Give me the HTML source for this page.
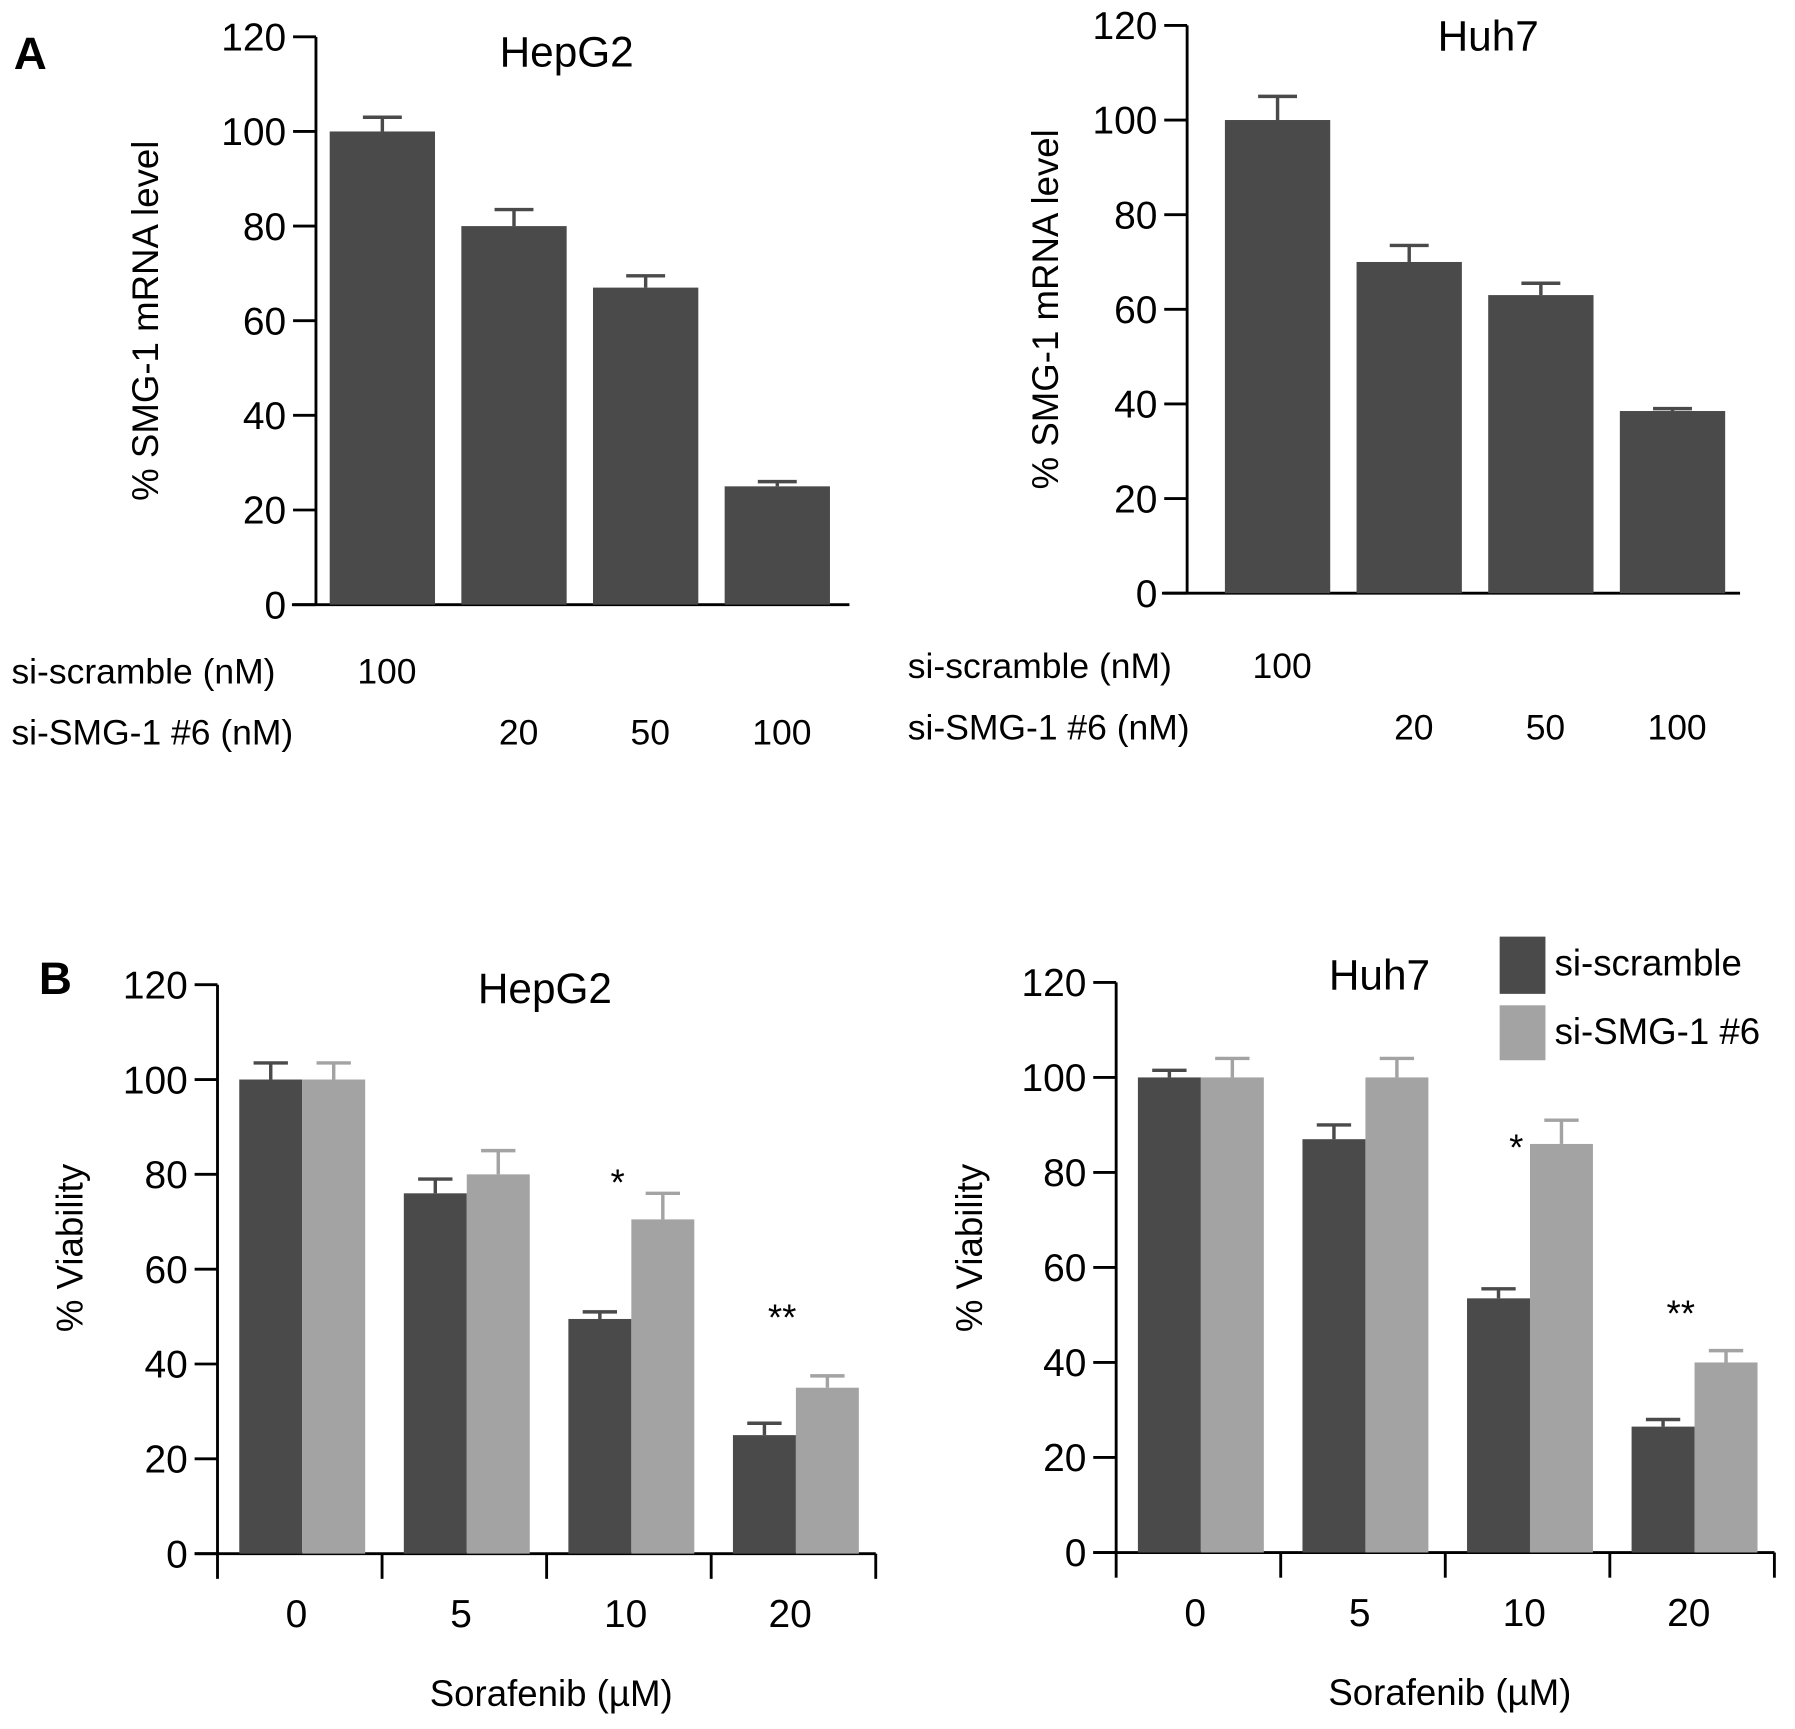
<!DOCTYPE html>
<html><head><meta charset="utf-8"><style>
html,body{margin:0;padding:0;background:#fff;}
svg{display:block;font-family:"Liberation Sans",Arial,sans-serif;}
</style></head><body>
<svg id="fig" width="1795" height="1729" viewBox="0 0 1568 1510" xmlns="http://www.w3.org/2000/svg">
<rect width="1568" height="1510" fill="#fff"/>
<text x="12" y="60" font-size="40" font-weight="bold">A</text>
<text x="34" y="868" font-size="40" font-weight="bold">B</text>
<g>
<rect x="1310" y="818" width="40" height="50" fill="#4a4a4a"/>
<rect x="1310" y="878" width="40" height="48" fill="#a3a3a3"/>
<text x="1358" y="852" font-size="32">si-scramble</text>
<text x="1358" y="912" font-size="32">si-SMG-1 #6</text>
</g>
</svg>
<script>
const yTicks = [0, 20, 40, 60, 80, 100, 120];
const aCategories = ["scramble 100", "SMG-1 20", "SMG-1 50", "SMG-1 100"];
const aScrambleDose = ["100", "", "", ""];
const aSmgDose = ["", "20", "50", "100"];
const aHepValues = [100, 80, 67, 25];
const aHepErr = [103, 83.5, 69.5, 26];
const aHuhValues = [100, 70, 63, 38.5];
const aHuhErr = [105, 73.5, 65.5, 39];
const bCategories = ["0", "5", "10", "20"];
const bHepScramble = [100, 76, 49.5, 25];
const bHepScrambleErr = [103.5, 79, 51, 27.5];
const bHepSmg = [100, 80, 70.5, 35];
const bHepSmgErr = [103.5, 85, 76, 37.5];
const bHuhScramble = [100, 87, 53.5, 26.5];
const bHuhScrambleErr = [101.5, 90, 55.5, 28];
const bHuhSmg = [100, 100, 86, 40];
const bHuhSmgErr = [104, 104, 91, 42.5];
const bHepStars = ["", "", "*", "**"];
const bHepStarLevel = [0, 0, 79, 50.5];
const bHuhStars = ["", "", "*", "**"];
const bHuhStarLevel = [0, 0, 86, 51];

const NS = "http://www.w3.org/2000/svg";
const svg = document.getElementById("fig");
function mk(tag, attrs, parent, text){
  const e = document.createElementNS(NS, tag);
  for (const k in attrs) e.setAttribute(k, attrs[k]);
  if (text !== undefined) e.textContent = text;
  (parent || svg).appendChild(e);
  return e;
}
const DARK = "#4a4a4a", LIGHT = "#a3a3a3";

function axes(g, ax, y0, y120, xStart, xEnd){
  const ys = v => y0 - (v/120)*(y0 - y120);
  const yl = mk("line",{x1:ax,y1:y120,x2:ax,y2:y0,stroke:"#000","stroke-width":2.5},g);
  
  
  const xl = mk("line",{x1:xStart,y1:y0,x2:xEnd,y2:y0,stroke:"#000","stroke-width":2.5},g);
  
  
  yTicks.forEach(t=>{
    const y = ys(t);
    const tl = mk("line",{x1:ax-20,y1:y,x2:ax,y2:y,stroke:"#000","stroke-width":2.5},g);
    
    
    const tx = mk("text",{x:ax-26,y:y+12,"font-size":34,"text-anchor":"end"},g,String(t));
    
    
  });
  return ys;
}
function bar(g, x, w, v, e, ys, color, capW, name){
  const r = mk("rect",{x:x,y:ys(v),width:w,height:ys(0)-ys(v),fill:color},g);
  
  
  const cx = x + w/2;
  const el = mk("line",{x1:cx,y1:ys(e),x2:cx,y2:ys(v),stroke:color,"stroke-width":3},g);
  
  
  const cl = mk("line",{x1:cx-capW/2,y1:ys(e),x2:cx+capW/2,y2:ys(e),stroke:color,"stroke-width":3},g);
  
  
}
function ylabel(g, x, y, txt){
  const t = mk("text",{x:x,y:y,"font-size":32,"text-anchor":"middle",transform:`rotate(-90 ${x} ${y})`},g,txt);
  
  
}
function title(g, x, y, txt){
  const t = mk("text",{x:x,y:y,"font-size":37,"text-anchor":"middle"},g,txt);
  
  
}

// Panel A
function panelA(cfg, vals, errs, name){
  const g = mk("g",{});
  
  
  const ys = axes(g, cfg.ax, cfg.y0, cfg.y120, cfg.xs, cfg.xe);
  const pitch = 115, bw = 92;
  aCategories.forEach((c,i)=>{
    const x = cfg.ax + cfg.off + i*pitch;
    bar(g, x, bw, vals[i], errs[i], ys, DARK, 34, "bar-" + i);
    const cx = x + bw/2 + 4;
    if (aScrambleDose[i]) { const t = mk("text",{x:cx,y:cfg.r1,"font-size":31,"text-anchor":"middle"},g,aScrambleDose[i]);
        }
    if (aSmgDose[i]) { const t = mk("text",{x:cx,y:cfg.r2,"font-size":31,"text-anchor":"middle"},g,aSmgDose[i]);
        }
  });
  title(g, cfg.tx, cfg.ty, cfg.title);
  ylabel(g, cfg.ylx, cfg.yly, "% SMG-1 mRNA level");
  const l1 = mk("text",{x:cfg.lx,y:cfg.r1,"font-size":31},g,"si-scramble (nM)");
  
  
  const l2 = mk("text",{x:cfg.lx,y:cfg.r2,"font-size":31},g,"si-SMG-1 #6 (nM)");
  
  
}
panelA({ax:276,off:12,y0:528,y120:32,xs:255,xe:742,tx:495,ty:58,title:"HepG2",ylx:138,yly:280,lx:10,r1:597,r2:650}, aHepValues, aHepErr, "chart-a-hepg2");
panelA({ax:1037,off:33,y0:518,y120:22,xs:1015,xe:1520,tx:1300,ty:44,title:"Huh7",ylx:924,yly:270,lx:793,r1:592,r2:646}, aHuhValues, aHuhErr, "chart-a-huh7");

// Panel B
function panelB(cfg, d, de, l, le, stars, starLv, name){
  const g = mk("g",{});
  
  
  const ys = axes(g, cfg.ax, cfg.y0, cfg.y120, cfg.xs, cfg.xe);
  const slot = (cfg.xe - cfg.ax) / bCategories.length;
  bCategories.forEach((c,i)=>{
    const left = cfg.ax + i*slot;
    const bw = 55;
    const x0 = left + 19;
    bar(g, x0, bw, d[i], de[i], ys, DARK, 30, "bar-scramble-" + c);
    bar(g, x0+bw, bw, l[i], le[i], ys, LIGHT, 30, "bar-smg1-" + c);
    if (stars[i]) {
      const s = mk("text",{x:x0+bw-12,y:ys(starLv[i])+14,"font-size":32,"text-anchor":"middle"},g,stars[i]);
      
      
    }
    const tk = mk("line",{x1:left+slot,y1:cfg.y0,x2:left+slot,y2:cfg.y0+22,stroke:"#000","stroke-width":2.5},g);
    
    
    const tl = mk("text",{x:x0+bw-5,y:cfg.y0+64,"font-size":34,"text-anchor":"middle"},g,c);
    
    
  });
  const t0 = mk("line",{x1:cfg.ax,y1:cfg.y0,x2:cfg.ax,y2:cfg.y0+22,stroke:"#000","stroke-width":2.5},g);
  
  
  title(g, cfg.tx, cfg.ty, cfg.title);
  ylabel(g, cfg.ylx, cfg.yly, "% Viability");
  const xt = mk("text",{x:(cfg.ax+cfg.xe)/2+4,y:cfg.y0+133,"font-size":32,"text-anchor":"middle"},g,"Sorafenib (\u00b5M)");
  
  
}
panelB({ax:190,y0:1357,y120:860,xs:170,xe:765,tx:476,ty:876,title:"HepG2",ylx:72,yly:1090}, bHepScramble, bHepScrambleErr, bHepSmg, bHepSmgErr, bHepStars, bHepStarLevel, "chart-b-hepg2");
panelB({ax:975,y0:1356,y120:858,xs:955,xe:1550,tx:1205,ty:864,title:"Huh7",ylx:858,yly:1090}, bHuhScramble, bHuhScrambleErr, bHuhSmg, bHuhSmgErr, bHuhStars, bHuhStarLevel, "chart-b-huh7");
</script>
</body></html>
